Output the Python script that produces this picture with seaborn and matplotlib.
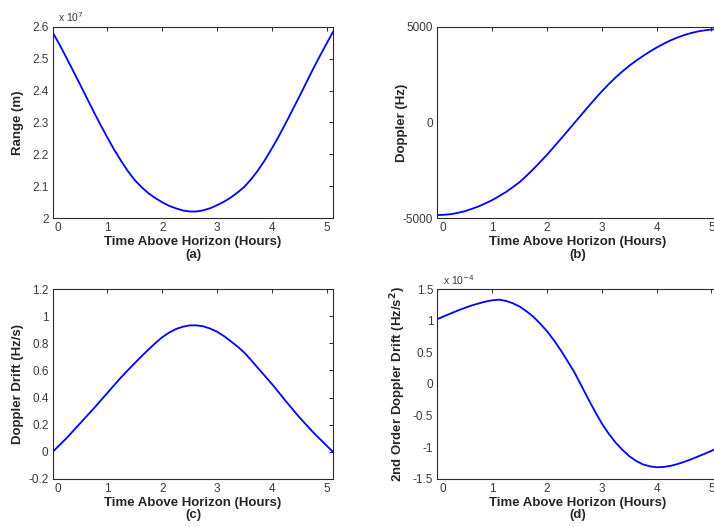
import numpy as np
import pandas as pd
import matplotlib
matplotlib.use('Agg')
import matplotlib.pyplot as plt
import matplotlib.transforms as mtransforms
import seaborn as sns

# time above horizon (hours), shared by all four panels
hours = [0.000, 0.125, 0.250, 0.375, 0.500, 0.625, 0.750, 0.875, 1.000, 1.125, 1.250,
         1.375, 1.500, 1.625, 1.750, 1.875, 2.000, 2.125, 2.250, 2.375, 2.500, 2.625,
         2.750, 2.875, 3.000, 3.125, 3.250, 3.375, 3.500, 3.625, 3.750, 3.875, 4.000,
         4.125, 4.250, 4.375, 4.500, 4.625, 4.750, 4.875, 5.000, 5.125]

# (a) range, in units of 1e7 m
range_e7 = [2.582, 2.544, 2.503, 2.461, 2.419, 2.376, 2.333, 2.292, 2.252, 2.214, 2.179,
            2.147, 2.119, 2.097, 2.078, 2.063, 2.050, 2.039, 2.031, 2.0245, 2.0213, 2.0213,
            2.025, 2.0315, 2.041, 2.052, 2.065, 2.081, 2.099, 2.123, 2.151, 2.183, 2.219,
            2.257, 2.297, 2.339, 2.381, 2.424, 2.467, 2.508, 2.548, 2.587]

# (b) doppler, Hz
doppler = [-4835, -4815, -4785, -4715, -4630, -4510, -4380, -4220, -4050, -3845, -3630,
           -3375, -3110, -2780, -2430, -2060, -1680, -1270, -860, -440, -20, 400,
           820, 1230, 1630, 2000, 2350, 2665, 2960, 3225, 3470, 3700, 3910,
           4105, 4280, 4430, 4560, 4665, 4750, 4808, 4850, 4870]

# (c) doppler drift, Hz/s
drift = [0.000, 0.050, 0.100, 0.155, 0.210, 0.265, 0.320, 0.378, 0.435, 0.493, 0.550,
         0.603, 0.655, 0.706, 0.755, 0.802, 0.845, 0.879, 0.905, 0.922, 0.932, 0.932,
         0.925, 0.908, 0.885, 0.853, 0.815, 0.775, 0.730, 0.674, 0.615, 0.558, 0.500,
         0.438, 0.375, 0.315, 0.255, 0.200, 0.145, 0.095, 0.045, -0.005]

# (d) 2nd order doppler drift, in units of 1e-4 Hz/s^2
drift2_e4 = [1.025, 1.072, 1.117, 1.161, 1.202, 1.240, 1.272, 1.301, 1.322, 1.332, 1.312,
             1.275, 1.222, 1.148, 1.062, 0.953, 0.832, 0.690, 0.532, 0.360, 0.182, -0.025,
             -0.235, -0.435, -0.625, -0.785, -0.925, -1.040, -1.140, -1.215, -1.270, -1.300, -1.315,
             -1.310, -1.293, -1.265, -1.230, -1.190, -1.146, -1.102, -1.055, -1.005]

df = pd.DataFrame({'hours': hours, 'range': range_e7, 'doppler': doppler,
                   'drift': drift, 'drift2': drift2_e4})

sns.set_style('white')
plt.rcParams['font.family'] = ['Liberation Sans', 'DejaVu Sans']

fig = plt.figure(figsize=(7.14, 5.27), dpi=100)

frame_col = '#2b2b2b'
tick_col = '#3a3a3a'

panels = [
    # column, left, bottom, height, ylabel, ylim, yticks, yticklabels, multiplier, letter
    ('range', 0.0738, 0.5858, 0.3636, 'Range (m)', (2.0, 2.6),
     [2.0, 2.1, 2.2, 2.3, 2.4, 2.5, 2.6], ['2', '2.1', '2.2', '2.3', '2.4', '2.5', '2.6'],
     r'x 10$^{7}$', '(a)'),
    ('doppler', 0.6127, 0.5858, 0.3636, 'Doppler (Hz)', (-5000, 5000),
     [-5000, 0, 5000], ['-5000', '0', '5000'], None, '(b)'),
    ('drift', 0.0738, 0.0911, 0.3605, 'Doppler Drift (Hz/s)', (-0.2, 1.2),
     [-0.2, 0, 0.2, 0.4, 0.6, 0.8, 1.0, 1.2], ['-0.2', '0', '0.2', '0.4', '0.6', '0.8', '1', '1.2'],
     None, '(c)'),
    ('drift2', 0.6127, 0.0911, 0.3605, r'2nd Order Doppler Drift (Hz/s$^{\mathbf{2}}$)', (-1.5, 1.5),
     [-1.5, -1, -0.5, 0, 0.5, 1, 1.5], ['-1.5', '-1', '-0.5', '0', '0.5', '1', '1.5'],
     r'x 10$^{-4}$', '(d)'),
]

for col, left, bottom, height, ylab, ylim, yt, ytl, mult, letter in panels:
    ax = fig.add_axes([left, bottom, 0.393, height])
    sns.lineplot(data=df, x='hours', y=col, ax=ax, color='#0000ff', linewidth=1.3)
    ax.set_xlim(0, 5.12)
    ax.set_ylim(*ylim)
    ax.set_xticks([0, 1, 2, 3, 4, 5])
    ax.set_xticklabels(['0', '1', '2', '3', '4', '5'])
    ax.set_yticks(yt)
    ax.set_yticklabels(ytl)
    ax.tick_params(direction='in', length=3, width=0.7, colors=frame_col, labelcolor=tick_col,
                   labelsize=8.5, top=True, right=True, pad=3)
    # the 0 label sits just inside the left edge, as in the original
    first = ax.xaxis.get_major_ticks()[0].label1
    first.set_horizontalalignment('left')
    first.set_transform(first.get_transform() +
                        mtransforms.ScaledTranslation(2 / 100, 0, fig.dpi_scale_trans))
    for sp in ax.spines.values():
        sp.set_color(frame_col)
        sp.set_linewidth(0.8)
        sp.set_visible(True)
    ax.set_xlabel('Time Above Horizon (Hours)\n' + letter, fontsize=9.5, fontweight='bold',
                  labelpad=1, linespacing=1.1)
    ax.set_ylabel(ylab, fontsize=9.5, fontweight='bold')
    ax.yaxis.set_label_coords(-0.104, 0.5)
    if mult:
        ax.text(0.018, 1.012, mult, transform=ax.transAxes, fontsize=7.5, color=tick_col,
                ha='left', va='bottom')

fig.savefig('out.png', dpi=100)
